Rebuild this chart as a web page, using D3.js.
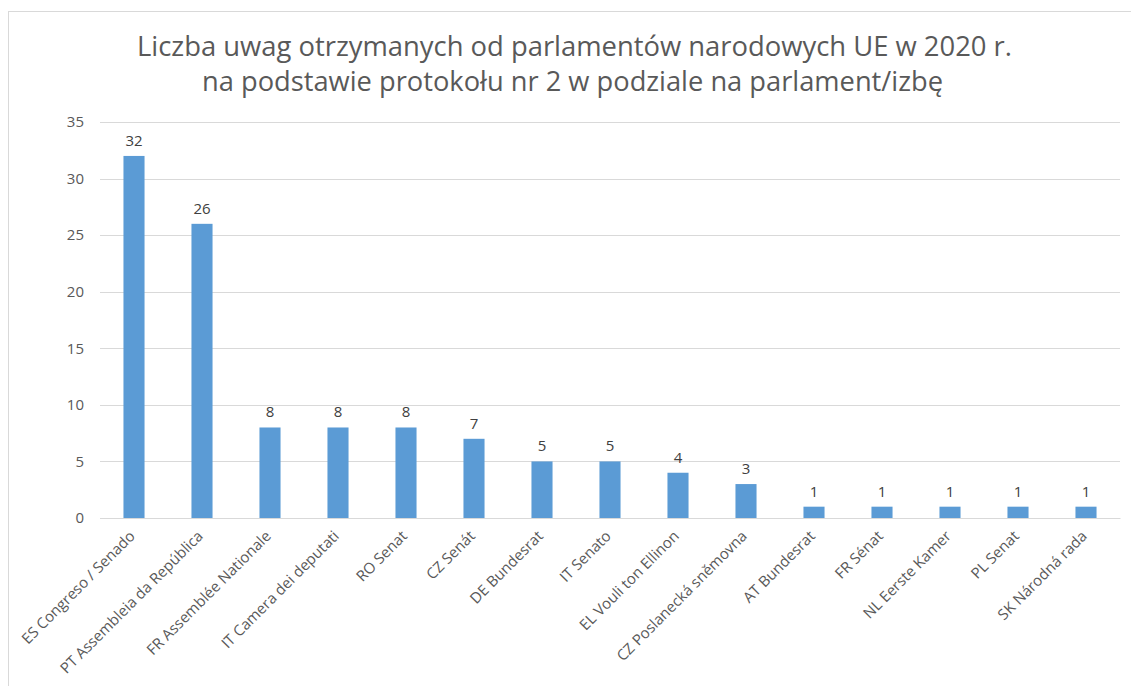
<!DOCTYPE html>
<html>
<head>
<meta charset="utf-8">
<script src="https://cdn.jsdelivr.net/npm/d3@7"></script>
<style>
  body { margin: 0; background: #fff; }
  svg { display: block; font-family: "Open Sans", "Noto Sans", sans-serif; }
</style>
</head>
<body>
<svg width="1131" height="686"></svg>
<script>
var parliaments = [
    "ES Congreso / Senado", "PT Assembleia da República", "FR Assemblée Nationale",
    "IT Camera dei deputati", "RO Senat", "CZ Senát", "DE Bundesrat", "IT Senato",
    "EL Vouli ton Ellinon", "CZ Poslanecká sněmovna", "AT Bundesrat", "FR Sénat",
    "NL Eerste Kamer", "PL Senat", "SK Národná rada"
];
var opinions = [32, 26, 8, 8, 8, 7, 5, 5, 4, 3, 1, 1, 1, 1, 1];
var yTicks = [0, 5, 10, 15, 20, 25, 30, 35];
var titleLines = [
    "Liczba uwag otrzymanych od parlamentów narodowych UE w 2020 r.",
    "na podstawie protokołu nr 2 w podziale na parlament/izbę"
];

var svg = d3.select("svg");

// chart frame (runs off the right and bottom edge like in the original)
svg.append("rect")
    .attr("x", 8.5).attr("y", 11.5)
    .attr("width", 1140).attr("height", 700)
    .attr("fill", "#fff")
    .attr("stroke", "#d9d9d9");

var margin = { top: 122, left: 100, right: 11, bottom: 168 };
var plotWidth = 1131 - margin.left - margin.right;
var plotHeight = 686 - margin.top - margin.bottom;

var y = d3.scaleLinear().domain([0, 35]).range([plotHeight, 0]);
var x = d3.scaleBand().domain(parliaments).range([0, plotWidth]).paddingInner(0.69).paddingOuter(0.345);

var plot = svg.append("g")
    .attr("transform", "translate(" + margin.left + "," + margin.top + ")");

// gridlines
plot.selectAll("line.grid")
    .data(yTicks)
    .enter().append("line")
    .attr("class", "grid")
    .attr("x1", 0).attr("x2", plotWidth)
    .attr("y1", function(d) { return Math.round(y(d)) + 0.5; })
    .attr("y2", function(d) { return Math.round(y(d)) + 0.5; })
    .attr("stroke", "#d9d9d9")
    .attr("stroke-width", 1);

var yAxis = d3.axisLeft(y).tickValues(yTicks).tickSize(0).tickPadding(16);
var yGroup = plot.append("g").call(yAxis).attr("font-family", null).attr("font-size", null);
yGroup.select(".domain").remove();
yGroup.selectAll("text")
    .attr("fill", "#595959")
    .style("font-size", "15px");

plot.selectAll("rect.bar")
    .data(opinions)
    .enter().append("rect")
    .attr("class", "bar")
    .attr("x", function(d, i) { return x(parliaments[i]); })
    .attr("width", x.bandwidth())
    .attr("y", function(d) { return y(d); })
    .attr("height", function(d) { return plotHeight - y(d); })
    .attr("fill", "#5b9bd5");

plot.selectAll("text.value")
    .data(opinions)
    .enter().append("text")
    .attr("class", "value")
    .attr("x", function(d, i) { return x(parliaments[i]) + x.bandwidth() / 2; })
    .attr("y", function(d) { return y(d) - 10; })
    .attr("text-anchor", "middle")
    .attr("fill", "#404040")
    .style("font-size", "15px")
    .text(function(d) { return d; });

var xAxis = d3.axisBottom(x).tickSize(0).tickPadding(0);
var xGroup = plot.append("g")
    .attr("transform", "translate(0," + plotHeight + ")")
    .call(xAxis)
    .attr("font-family", null).attr("font-size", null);
xGroup.select(".domain").attr("stroke", "#d9d9d9");
xGroup.selectAll("text")
    .attr("fill", "#595959")
    .style("font-size", "15px")
    .attr("text-anchor", "end")
    .attr("dy", null)
    .attr("y", 0)
    .attr("transform", "translate(2,19) rotate(-45)");

// title, squeezed to the width of the original condensed face
var titleWidths = [875, 741];
svg.selectAll("text.title")
    .data(titleLines)
    .enter().append("text")
    .attr("class", "title")
    .attr("x", function(d, i) { return i === 0 ? 574.5 : 572.5; })
    .attr("y", function(d, i) { return 56 + i * 35; })
    .attr("text-anchor", "middle")
    .attr("fill", "#595959")
    .attr("textLength", function(d, i) { return titleWidths[i]; })
    .attr("lengthAdjust", "spacingAndGlyphs")
    .style("font-size", "28px")
    .text(function(d) { return d; });
</script>
</body>
</html>
